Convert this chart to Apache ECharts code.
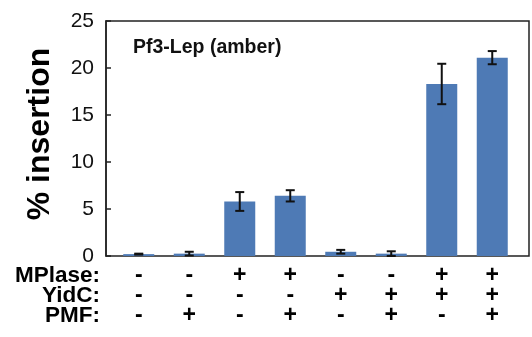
<!DOCTYPE html>
<html><head><meta charset="utf-8">
<script src="https://cdn.jsdelivr.net/npm/echarts@6/dist/echarts.min.js"></script>
<style>html,body{margin:0;padding:0;background:#fff}#c{width:532px;height:337px}</style>
</head><body><div id="c"></div>
<script>
const categories = ['c1','c2','c3','c4','c5','c6','c7','c8'];
const values = [0.2, 0.25, 5.8, 6.4, 0.45, 0.25, 18.3, 21.1];
const errors = [0.05, 0.2, 1.0, 0.6, 0.2, 0.25, 2.15, 0.7];
const MPlase = ['-','-','+','+','-','-','+','+'];
const YidC   = ['-','-','-','-','+','+','+','+'];
const PMF    = ['-','+','-','+','-','+','-','+'];
const rowLabels = ['MPlase:', 'YidC:', 'PMF:'];
const yTicks = [0, 5, 10, 15, 20, 25];
const title = 'Pf3-Lep (amber)';
const yName = '% insertion';

const chart = echarts.init(document.getElementById('c'), null, {renderer:'canvas'});
const F = '"Liberation Sans", Arial, sans-serif';
const rows = [MPlase, YidC, PMF];
chart.setOption({
  animation: false,
  backgroundColor: '#fff',
  grid: [
    {left: 106, right: 3, top: 21, bottom: 81, show: true, borderColor: '#222', borderWidth: 1.5, backgroundColor: 'transparent'},
    {left: 113.5, width: 404, top: 21, bottom: 81}
  ],
  xAxis: [
    {gridIndex: 0, type: 'value', show: false, min: 0, max: 1},
    {gridIndex: 1, type: 'category', data: categories,
      axisLine: {show: false}, axisTick: {show: false},
      axisLabel: {margin: 10, interval: 0, fontFamily: F, fontWeight: 'bold', fontSize: 23, lineHeight: 20, color: '#000',
        formatter: (v, i) => rows.map(r => r[i]).join('\n')}}
  ],
  yAxis: [
    {gridIndex: 0, type: 'value', min: 0, max: yTicks[yTicks.length-1], interval: yTicks[1]-yTicks[0],
      splitLine: {show: false},
      axisLine: {show: true, lineStyle: {color: '#222', width: 1.5}},
      axisTick: {show: true, inside: true, length: 5, lineStyle: {color: '#222', width: 1.5}},
      axisLabel: {margin: 12, fontFamily: F, fontSize: 21, color: '#111'}},
    {gridIndex: 1, type: 'value', min: 0, max: yTicks[yTicks.length-1], show: false, splitLine: {show: false}}
  ],
  series: [
    {type: 'bar', xAxisIndex: 1, yAxisIndex: 1, data: values, barWidth: 31,
      itemStyle: {color: '#4e7ab5'}},
    {type: 'custom', xAxisIndex: 1, yAxisIndex: 1, z: 5,
      data: values.map((v, i) => [i, v - errors[i], v + errors[i]]),
      renderItem: (params, api) => {
        const x = api.value(0);
        const lo = api.coord([x, api.value(1)]);
        const hi = api.coord([x, api.value(2)]);
        const w = 4.5;
        const st = {stroke: '#111', lineWidth: 2};
        return {type: 'group', children: [
          {type: 'line', shape: {x1: hi[0], y1: hi[1], x2: lo[0], y2: lo[1]}, style: st},
          {type: 'line', shape: {x1: hi[0]-w, y1: hi[1], x2: hi[0]+w, y2: hi[1]}, style: st},
          {type: 'line', shape: {x1: lo[0]-w, y1: lo[1], x2: lo[0]+w, y2: lo[1]}, style: st}
        ]};
      }}
  ],
  graphic: [
    {type: 'text', x: 40, y: 134, rotation: Math.PI/2,
      style: {text: yName, fontFamily: F, fontWeight: 'bold', fontSize: 32, fill: '#000', align: 'center', verticalAlign: 'middle'}},
    {type: 'text', left: 133, top: 38, style: {text: title, fontFamily: F, fontWeight: 'bold', fontSize: 19.5, fill: '#111'}},
    ...rowLabels.map((t, k) => ({type: 'text', x: 100, y: 276 + 20*k,
      style: {text: t, fontFamily: F, fontWeight: 'bold', fontSize: 22.5, fill: '#000', align: 'right', verticalAlign: 'middle'}}))
  ]
});
</script></body></html>
